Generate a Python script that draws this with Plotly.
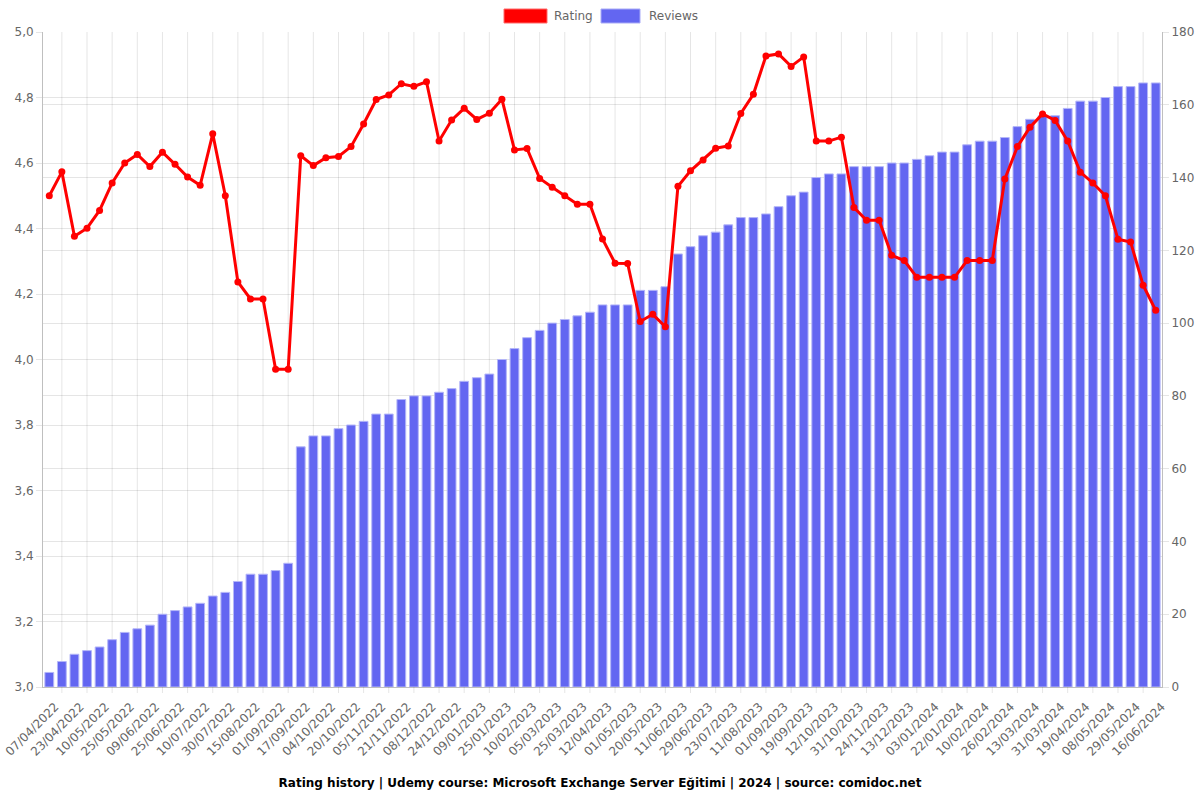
import plotly.graph_objects as go

dates = [
    "07/04/2022", "15/04/2022", "23/04/2022", "01/05/2022", "10/05/2022", "17/05/2022", "25/05/2022", "02/06/2022",
    "09/06/2022", "17/06/2022", "25/06/2022", "03/07/2022", "10/07/2022", "20/07/2022", "30/07/2022", "07/08/2022",
    "15/08/2022", "24/08/2022", "01/09/2022", "09/09/2022", "17/09/2022", "26/09/2022", "04/10/2022", "12/10/2022",
    "20/10/2022", "28/10/2022", "05/11/2022", "13/11/2022", "21/11/2022", "30/11/2022", "08/12/2022", "16/12/2022",
    "24/12/2022", "01/01/2023", "09/01/2023", "17/01/2023", "25/01/2023", "02/02/2023", "10/02/2023", "22/02/2023",
    "05/03/2023", "15/03/2023", "25/03/2023", "03/04/2023", "12/04/2023", "21/04/2023", "01/05/2023", "10/05/2023",
    "20/05/2023", "31/05/2023", "11/06/2023", "20/06/2023", "29/06/2023", "11/07/2023", "23/07/2023", "02/08/2023",
    "11/08/2023", "22/08/2023", "01/09/2023", "10/09/2023", "19/09/2023", "01/10/2023", "12/10/2023", "21/10/2023",
    "31/10/2023", "12/11/2023", "24/11/2023", "03/12/2023", "13/12/2023", "23/12/2023", "03/01/2024", "13/01/2024",
    "22/01/2024", "01/02/2024", "10/02/2024", "18/02/2024", "26/02/2024", "05/03/2024", "13/03/2024", "22/03/2024",
    "31/03/2024", "10/04/2024", "19/04/2024", "29/04/2024", "08/05/2024", "18/05/2024", "29/05/2024", "07/06/2024",
    "16/06/2024",
]

ratings = [
    4.500, 4.573, 4.376, 4.401, 4.455, 4.539, 4.600, 4.626, 4.589, 4.633, 4.596, 4.557, 4.532, 4.689, 4.500, 4.237, 4.185, 4.185, 3.970, 3.970,
    4.622, 4.592, 4.616, 4.620, 4.650, 4.719, 4.794, 4.808, 4.842, 4.834, 4.848, 4.667, 4.731, 4.767, 4.733, 4.752, 4.795, 4.640, 4.644, 4.553,
    4.526, 4.500, 4.474, 4.474, 4.368, 4.294, 4.293, 4.116, 4.138, 4.100, 4.529, 4.576, 4.609, 4.645, 4.652, 4.751, 4.810, 4.927, 4.933, 4.895,
    4.924, 4.667, 4.667, 4.679, 4.464, 4.425, 4.425, 4.318, 4.302, 4.251, 4.251, 4.251, 4.251, 4.302, 4.302, 4.302, 4.551, 4.650, 4.709, 4.750,
    4.730, 4.667, 4.572, 4.539, 4.500, 4.367, 4.359, 4.227, 4.150,
]

reviews = [
    4, 7, 9, 10, 11, 13, 15, 16, 17, 20,
    21, 22, 23, 25, 26, 29, 31, 31, 32, 34,
    66, 69, 69, 71, 72, 73, 75, 75, 79, 80,
    80, 81, 82, 84, 85, 86, 90, 93, 96, 98,
    100, 101, 102, 103, 105, 105, 105, 109, 109, 110,
    119, 121, 124, 125, 127, 129, 129, 130, 132, 135,
    136, 140, 141, 141, 143, 143, 143, 144, 144, 145,
    146, 147, 147, 149, 150, 150, 151, 154, 156, 157,
    157, 159, 161, 161, 162, 165, 165, 166, 166,
]

series_names = ["Rating", "Reviews"]
series_colors = ["#ff0000", "#6366f1"]
series_borders = ["#ff6b6b", "#a9abf7"]

label_dates = dates[0::2]      # dates shown as tick labels
grid_dates = dates[1::2]       # vertical grid lines sit between labelled dates
n = len(dates)

title_text = "Rating history | Udemy course: Microsoft Exchange Server Eğitimi | 2024 | source: comidoc.net"

FONT = "DejaVu Sans, Arial, sans-serif"
GRID = "rgba(0,0,0,0.1)"
AXLINE = "rgba(0,0,0,0.25)"
TICKC = "#666666"

# plot-area geometry in pixels (1200x800 canvas)
L, R, T, B = 43, 38, 32, 113
PW, PH = 1200 - L - R, 800 - T - B


def px_x(px):
    return (px - L) / PW


def px_y(py):
    return (800 - B - py) / PH


fig = go.Figure()
fig.add_trace(go.Bar(
    x=dates, y=reviews, name=series_names[1], yaxis="y", xaxis="x",
    marker=dict(color=series_colors[1], line=dict(color="#b4b6f8", width=1)),
    showlegend=False,
))
fig.add_trace(go.Scatter(
    x=dates, y=ratings, name=series_names[0], yaxis="y2", xaxis="x",
    mode="lines+markers",
    line=dict(color=series_colors[0], width=3),
    marker=dict(color=series_colors[0], size=7),
    showlegend=False,
))

shapes = []
# vertical grid lines + small tick marks at every other category (between labels)
for d in grid_dates:
    shapes.append(dict(type="line", xref="x", yref="paper", x0=d, x1=d, y0=0, y1=1,
                       line=dict(color=GRID, width=1), layer="below"))
    shapes.append(dict(type="line", xref="x", yref="paper", x0=d, x1=d, y0=-6 / PH, y1=0,
                       line=dict(color=GRID, width=1), layer="below"))

# legend drawn as colour boxes + labels, centred above the plot
legend_boxes = [(504, 547), (601, 640)]
legend_text_x = [552, 647]
annotations = []
for (x0, x1), tx, name, col, bcol in zip(legend_boxes, legend_text_x, series_names, series_colors, series_borders):
    shapes.append(dict(type="rect", xref="paper", yref="paper",
                       x0=px_x(x0), x1=px_x(x1), y0=px_y(23), y1=px_y(9),
                       fillcolor=col, line=dict(color=bcol, width=1)))
    annotations.append(dict(text=name, xref="paper", yref="paper", x=px_x(tx), y=px_y(16),
                            xanchor="left", yanchor="middle", showarrow=False,
                            font=dict(size=12, color=TICKC, family=FONT)))

fig.update_layout(
    width=1200, height=800,
    margin=dict(l=L, r=R, t=T, b=B, autoexpand=False),
    paper_bgcolor="white", plot_bgcolor="white",
    separators=", ",
    bargap=0.3,
    font=dict(family=FONT, size=12, color=TICKC),
    showlegend=False,
    title=dict(text="<b>" + title_text + "</b>", x=0.5, xanchor="center",
               y=1 - 783 / 800, yanchor="middle", yref="container",
               font=dict(size=12, color="#000000", family=FONT)),
    shapes=shapes,
    annotations=annotations,
    xaxis=dict(
        type="category", categoryorder="array", categoryarray=dates,
        range=[-0.5, n - 0.5], automargin=False,
        tickmode="array", tickvals=label_dates, ticktext=label_dates,
        tickangle=-45, ticks="", showgrid=False,
        ticklabelshift=6, ticklabelstandoff=7,
        showline=True, linecolor=AXLINE,
        tickfont=dict(size=12, color=TICKC),
    ),
    yaxis=dict(
        side="right", range=[0, 180], dtick=20, automargin=False,
        showgrid=True, gridcolor=GRID, zeroline=False,
        ticks="outside", ticklen=6, tickcolor=GRID,
        showline=True, linecolor=AXLINE,
        tickfont=dict(size=12, color=TICKC),
    ),
    yaxis2=dict(
        side="left", overlaying="y", range=[3, 5], dtick=0.2, tickformat=".1f",
        automargin=False,
        showgrid=True, gridcolor=GRID, zeroline=False,
        ticks="outside", ticklen=6, tickcolor=GRID,
        showline=True, linecolor=AXLINE,
        tickfont=dict(size=12, color=TICKC),
    ),
)

fig.write_html("out.html")
